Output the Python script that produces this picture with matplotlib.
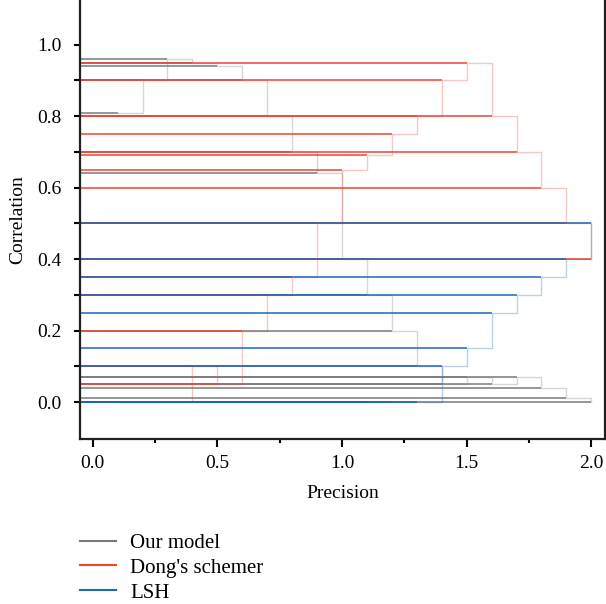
import matplotlib.pyplot as plt
from matplotlib.lines import Line2D

# precision steps (x) and correlation of each method at that step (y)
precision = [0.1, 0.2, 0.3, 0.4, 0.5, 0.6, 0.7, 0.8, 0.9, 1.0,
             1.1, 1.2, 1.3, 1.4, 1.5, 1.6, 1.7, 1.8, 1.9, 2.0]
our_model = [0.81, 0.90, 0.96, 0.95, 0.94, 0.90, 0.80, 0.70, 0.64, 0.40,
             0.30, 0.20, 0.10, 0.05, 0.07, 0.05, 0.07, 0.04, 0.01, 0.00]
dong = [0.00, 0.00, 0.00, 0.10, 0.05, 0.20, 0.30, 0.35, 0.50, 0.65,
        0.69, 0.75, 0.80, 0.90, 0.95, 0.80, 0.70, 0.60, 0.50, 0.40]
lsh = [0.00, 0.00, 0.00, 0.00, 0.00, 0.00, 0.00, 0.00, 0.00, 0.00,
       0.00, 0.00, 0.00, 0.10, 0.15, 0.25, 0.30, 0.35, 0.40, 0.50]

labels = ["Our model", "Dong's schemer", "LSH"]
colors = ['#7a7a7a', '#ee4634', '#1f66b5']

x_ticks = [0.0, 0.5, 1.0, 1.5, 2.0]
y_ticks = [0.0, 0.2, 0.4, 0.6, 0.8, 1.0]

plt.rcParams['font.family'] = ['Liberation Serif', 'DejaVu Serif']

fig = plt.figure(figsize=(6.06, 6.04), dpi=100)
ax = fig.add_axes([80 / 606, 1 - 438.5 / 604, 525 / 606, 438.5 / 604])

x_left = -0.051
for ys, c in zip([our_model, dong, lsh], colors):
    # faint step line joining the points
    ax.plot(precision, ys, drawstyle='steps-post', color=c, alpha=0.3, lw=1.0)
    # drop lines back to the y axis
    ax.hlines(ys, x_left, precision, color=c, alpha=0.85, lw=1.3)

ax.set_xlim(x_left, 2.055)
ax.set_ylim(-0.102, 1.125)

ax.set_xticks(x_ticks)
ax.set_xticklabels([f"{v:.1f}" for v in x_ticks])
ax.set_xticks([0.25, 0.75, 1.25, 1.75], minor=True)
ax.set_yticks(y_ticks)
ax.set_yticklabels([f"{v:.1f}" for v in y_ticks])
ax.set_yticks([0.1, 0.3, 0.5, 0.7, 0.9], minor=True)

ax.tick_params(axis='both', which='both', direction='out', width=1.5, labelsize=14)
ax.tick_params(axis='x', which='major', length=6, pad=6)
ax.tick_params(axis='x', which='minor', length=3)
ax.tick_params(axis='y', which='both', length=4, pad=9)

ax.spines['top'].set_visible(False)
for s in ['left', 'bottom', 'right']:
    ax.spines[s].set_linewidth(1.6)
    ax.spines[s].set_color('#231f20')

ax.set_xlabel("Precision", fontsize=14, labelpad=9)
ax.set_ylabel("Correlation", fontsize=14, labelpad=8)

handles = [Line2D([], [], color=c, lw=1.5) for c in colors]
fig.legend(handles, labels, loc='upper left', bbox_to_anchor=(72 / 606, 1 - 525 / 604),
           frameon=False, fontsize=15, handlelength=1.7, handletextpad=0.7,
           labelspacing=0.25, borderaxespad=0)

fig.savefig("out.png", dpi=100)
